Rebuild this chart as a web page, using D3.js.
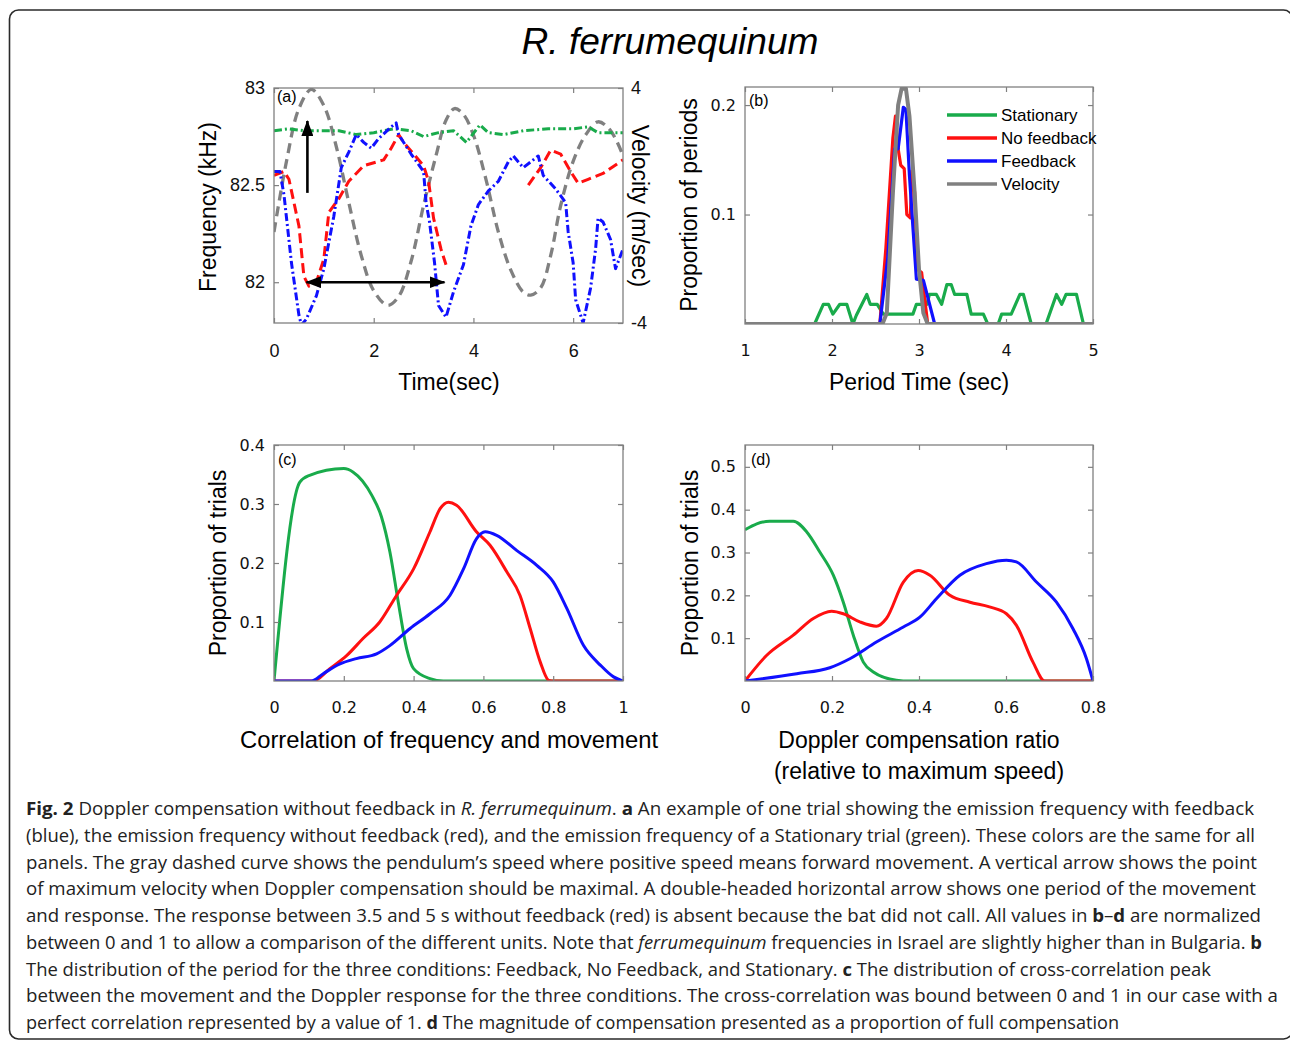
<!DOCTYPE html>
<html>
<head>
<meta charset="utf-8">
<script src="https://cdn.jsdelivr.net/npm/d3@7"></script>
<style>
  body { margin: 0; background: #fff; }
  svg { display: block; }
</style>
</head>
<body>
<div id="chart"></div>
<script>
// ---------- panel (a): one trial ----------
const aTimeTicks = [0, 2, 4, 6];
const aFreqTicks = [82, 82.5, 83];
const aVelTicks = [-4, 4];

// [time (s), velocity (m/s)]
const aVelocity = [[0,-0.9],[0.25,1.5],[0.5,3.3],[0.75,3.95],[1.0,3.4],[1.25,2.0],[1.5,0.1],[1.75,-1.7],[2.0,-2.9],[2.28,-3.4],[2.5,-3.1],[2.75,-1.9],[3.0,0.0],[3.25,1.7],[3.45,2.9],[3.62,3.3],[3.8,3.1],[4.0,2.4],[4.25,0.9],[4.5,-0.9],[4.75,-2.2],[5.0,-2.95],[5.15,-3.05],[5.35,-2.8],[5.55,-1.7],[5.75,0.0],[6.0,1.5],[6.25,2.4],[6.5,2.85],[6.75,2.55],[7.0,1.7]];

// [time (s), frequency (kHz)]
const aStationary = [[0,82.78],[0.3,82.79],[0.6,82.78],[1.0,82.78],[1.3,82.78],[1.65,82.76],[2.0,82.77],[2.4,82.79],[2.75,82.78],[3.0,82.75],[3.3,82.77],[3.6,82.78],[3.86,82.72],[4.13,82.81],[4.3,82.77],[4.6,82.76],[5.0,82.78],[5.5,82.79],[6.0,82.79],[6.3,82.8],[6.5,82.77],[7.0,82.77]];

const aNoFeedback = [[0,82.55],[0.2,82.57],[0.3,82.53],[0.5,82.29],[0.6,82.03],[0.7,81.98],[0.85,82.0],[1.0,82.12],[1.1,82.36],[1.3,82.43],[1.5,82.52],[1.8,82.6],[2.2,82.63],[2.35,82.69],[2.5,82.76],[2.6,82.72],[3.0,82.6],[3.1,82.52],[3.2,82.33],[3.35,82.17],[3.45,82.09],[3.5,null],[5.1,82.5],[5.35,82.59],[5.55,82.68],[5.75,82.66],[5.95,82.57],[6.1,82.51],[6.3,82.53],[6.6,82.56],[7.0,82.63]];

const aFeedback = [[0,82.57],[0.12,82.57],[0.2,82.45],[0.35,82.1],[0.5,81.83],[0.55,81.78],[0.65,81.81],[0.85,81.93],[1.0,82.07],[1.2,82.34],[1.35,82.59],[1.5,82.67],[1.65,82.76],[1.8,82.72],[1.95,82.69],[2.1,82.74],[2.35,82.8],[2.45,82.82],[2.5,82.76],[2.75,82.66],[3.0,82.57],[3.05,82.41],[3.12,82.31],[3.22,82.1],[3.3,81.88],[3.45,81.82],[3.6,81.95],[3.8,82.09],[3.95,82.29],[4.1,82.4],[4.3,82.47],[4.5,82.52],[4.7,82.62],[4.8,82.65],[5.0,82.59],[5.15,82.62],[5.3,82.65],[5.4,82.55],[5.65,82.48],[5.85,82.41],[5.9,82.26],[6.0,82.1],[6.05,81.91],[6.2,81.79],[6.35,81.97],[6.45,82.17],[6.5,82.33],[6.6,82.31],[6.75,82.22],[6.85,82.07],[7.0,82.17]];

// arrows: [time, freq from, freq to] and [freq, time from, time to]
const aArrowUp = [0.67, 82.46, 82.83];
const aArrowPeriod = [82.0, 0.65, 3.42];

// ---------- panel (b): period distribution ----------
const bPeriodTicks = [1, 2, 3, 4, 5];
const bPropTicks = [0.1, 0.2];
const bNames = ["Stationary", "No feedback", "Feedback", "Velocity"];

const bStationary = [[1,0],[1.8,0],[1.9,0.018],[1.96,0.018],[2.01,0.009],[2.09,0.018],[2.17,0.018],[2.24,0],[2.28,0.008],[2.4,0.027],[2.44,0.018],[2.52,0.018],[2.59,0.009],[2.93,0.009],[2.97,0.018],[3.09,0.018],[3.12,0.027],[3.2,0.027],[3.26,0.018],[3.32,0.036],[3.37,0.036],[3.41,0.027],[3.55,0.027],[3.6,0.009],[3.74,0.009],[3.79,0],[3.91,0],[3.95,0.009],[4.06,0.009],[4.16,0.027],[4.2,0.027],[4.29,0],[4.46,0],[4.58,0.027],[4.64,0.018],[4.69,0.027],[4.81,0.027],[4.89,0],[5,0]];
const bNoFeedback = [[2.55,0],[2.62,0.07],[2.7,0.17],[2.73,0.19],[2.76,0.16],[2.79,0.145],[2.83,0.142],[2.86,0.1],[2.9,0.097],[2.92,0.14],[2.95,0.12],[2.98,0.05],[3.03,0.047],[3.07,0.02],[3.1,0]];
const bFeedback = [[2.55,0],[2.64,0.06],[2.72,0.16],[2.76,0.16],[2.82,0.198],[2.85,0.196],[2.89,0.136],[2.97,0.041],[3.05,0.04],[3.18,0]];
const bVelocity = [[1,0],[2.58,0],[2.63,0.01],[2.7,0.12],[2.76,0.2],[2.8,0.215],[2.85,0.215],[2.89,0.19],[2.95,0.12],[3.0,0.05],[3.05,0.01],[3.1,0],[5,0]];

// ---------- panel (c): correlation distribution ----------
const cCorrTicks = [0, 0.2, 0.4, 0.6, 0.8, 1];
const cPropTicks = [0.1, 0.2, 0.3, 0.4];

const cStationary = [[0,0],[0.074,0.337],[0.1,0.348],[0.2,0.36],[0.227,0.354],[0.28,0.315],[0.308,0.278],[0.332,0.219],[0.356,0.134],[0.38,0.055],[0.4,0.021],[0.447,0.004],[0.485,0],[1,0]];
const cNoFeedback = [[0,0],[0.112,0],[0.16,0.021],[0.208,0.043],[0.255,0.072],[0.303,0.1],[0.351,0.145],[0.4,0.19],[0.447,0.253],[0.476,0.292],[0.5,0.303],[0.523,0.298],[0.58,0.253],[0.619,0.23],[0.667,0.185],[0.705,0.145],[0.734,0.089],[0.763,0.032],[0.787,0.001],[0.796,0],[1,0]];
const cFeedback = [[0,0],[0.107,0],[0.14,0.012],[0.189,0.029],[0.236,0.038],[0.294,0.046],[0.332,0.06],[0.39,0.089],[0.447,0.114],[0.504,0.145],[0.543,0.19],[0.58,0.241],[0.605,0.253],[0.638,0.247],[0.696,0.221],[0.753,0.196],[0.8,0.168],[0.839,0.123],[0.887,0.06],[0.935,0.027],[0.973,0.007],[1,0]];

// ---------- panel (d): compensation ratio distribution ----------
const dRatioTicks = [0, 0.2, 0.4, 0.6, 0.8];
const dPropTicks = [0.1, 0.2, 0.3, 0.4, 0.5];

const dStationary = [[0,0.353],[0.027,0.367],[0.057,0.373],[0.111,0.373],[0.142,0.348],[0.172,0.301],[0.203,0.247],[0.226,0.184],[0.249,0.107],[0.272,0.044],[0.295,0.021],[0.348,0.002],[0.379,0],[0.8,0]];
const dNoFeedback = [[0,0],[0.05,0.06],[0.111,0.107],[0.157,0.146],[0.199,0.163],[0.226,0.157],[0.264,0.138],[0.302,0.128],[0.325,0.146],[0.364,0.231],[0.398,0.258],[0.425,0.247],[0.471,0.2],[0.517,0.184],[0.562,0.173],[0.601,0.157],[0.624,0.13],[0.662,0.044],[0.689,0],[0.8,0]];
const dFeedback = [[0,0],[0.119,0.017],[0.195,0.031],[0.241,0.052],[0.302,0.091],[0.364,0.126],[0.402,0.149],[0.44,0.192],[0.494,0.247],[0.555,0.274],[0.601,0.282],[0.624,0.278],[0.67,0.231],[0.716,0.184],[0.754,0.122],[0.785,0.052],[0.8,0]];

// ---------- caption ----------
const captionLines = [
  [["Fig. 2", "b"], [" Doppler compensation without feedback in ", ""], ["R. ferrumequinum", "i"], [". ", ""], ["a", "b"], [" An example of one trial showing the emission frequency with feedback", ""]],
  [["(blue), the emission frequency without feedback (red), and the emission frequency of a Stationary trial (green). These colors are the same for all", ""]],
  [["panels. The gray dashed curve shows the pendulum\u2019s speed where positive speed means forward movement. A vertical arrow shows the point", ""]],
  [["of maximum velocity when Doppler compensation should be maximal. A double-headed horizontal arrow shows one period of the movement", ""]],
  [["and response. The response between 3.5 and 5\u00a0s without feedback (red) is absent because the bat did not call. All values in ", ""], ["b", "b"], ["\u2013", ""], ["d", "b"], [" are normalized", ""]],
  [["between 0 and 1 to allow a comparison of the different units. Note that ", ""], ["ferrumequinum", "i"], [" frequencies in Israel are slightly higher than in Bulgaria. ", ""], ["b", "b"]],
  [["The distribution of the period for the three conditions: Feedback, No Feedback, and Stationary. ", ""], ["c", "b"], [" The distribution of cross-correlation peak", ""]],
  [["between the movement and the Doppler response for the three conditions. The cross-correlation was bound between 0 and 1 in our case with a", ""]],
  [["perfect correlation represented by a value of 1. ", ""], ["d", "b"], [" The magnitude of compensation presented as a proportion of full compensation", ""]]
];
const captionEnds = [1254, 1255, 1257, 1256, 1261, 1262, 1211, 1278, 1119];

// ---------- drawing ----------
const green = "#19ab4b", red = "#ff1010", blue = "#1010ff", gray = "#808080";
const frameColor = "#808080";
const sansA = "'Liberation Sans', Arial, sans-serif";
const sansTick = "'DejaVu Sans', sans-serif";

const svg = d3.select("#chart").append("svg")
    .attr("width", 1290)
    .attr("height", 1040);

// outer rounded border
svg.append("rect")
    .attr("x", 9.5).attr("y", 10)
    .attr("width", 1283).attr("height", 1029)
    .attr("rx", 9)
    .attr("fill", "none")
    .attr("stroke", "#2a2a2a")
    .attr("stroke-width", 1.6);

svg.append("text")
    .attr("x", 670).attr("y", 54)
    .attr("text-anchor", "middle")
    .attr("textLength", 297)
    .attr("lengthAdjust", "spacingAndGlyphs")
    .style("font-family", sansA)
    .style("font-style", "italic")
    .style("font-size", "37px")
    .text("R. ferrumequinum");

const defs = svg.append("defs");
defs.append("marker")
    .attr("id", "head")
    .attr("viewBox", "0 0 16 12")
    .attr("refX", 15).attr("refY", 6)
    .attr("markerUnits", "userSpaceOnUse")
    .attr("markerWidth", 16).attr("markerHeight", 12)
    .attr("orient", "auto-start-reverse")
    .append("path")
    .attr("d", "M0,0 L16,6 L0,12 z")
    .attr("fill", "#000");

function makePanel(name, box, xDomain, yDomain) {
    const g = svg.append("g").attr("transform", `translate(${box.x},${box.y})`);
    const x = d3.scaleLinear().domain(xDomain).range([0, box.w]);
    const y = d3.scaleLinear().domain(yDomain).range([box.h, 0]);
    defs.append("clipPath").attr("id", "clip-" + name)
        .append("rect").attr("width", box.w).attr("height", box.h);
    const plot = g.append("g").attr("clip-path", `url(#clip-${name})`);
    return { g, x, y, plot, w: box.w, h: box.h };
}

function styleAxis(sel, font, size) {
    sel.select(".domain").remove();
    sel.selectAll(".tick line").attr("stroke", frameColor).attr("stroke-width", 1.2);
    sel.selectAll(".tick text").attr("fill", "#111")
        .style("font-family", font).style("font-size", size + "px");
}

function drawFrame(p, o) {
    const { g, x, y, w, h } = p;
    const fmt = o.fmt || (d => String(d));
    g.append("g").attr("transform", `translate(0,${h})`)
        .call(d3.axisBottom(x).tickValues(o.xTicks).tickSizeInner(-5).tickSizeOuter(0).tickPadding(21).tickFormat(fmt))
        .call(s => styleAxis(s, o.font, o.size));
    g.append("g")
        .call(d3.axisTop(x).tickValues(o.xTicks).tickSizeInner(-5).tickSizeOuter(0).tickFormat(""))
        .call(s => styleAxis(s, o.font, o.size));
    g.append("g")
        .call(d3.axisLeft(y).tickValues(o.yTicks).tickSizeInner(-5).tickSizeOuter(0).tickPadding(9).tickFormat(fmt))
        .call(s => styleAxis(s, o.font, o.size));
    if (!o.noRight) {
        g.append("g").attr("transform", `translate(${w},0)`)
            .call(d3.axisRight(y).tickValues(o.yTicks).tickSizeInner(-5).tickSizeOuter(0).tickFormat(""))
            .call(s => styleAxis(s, o.font, o.size));
    }
    g.append("rect")
        .attr("width", w).attr("height", h)
        .attr("fill", "none")
        .attr("stroke", frameColor)
        .attr("stroke-width", 1.3);
    g.append("text")
        .attr("x", o.tagX).attr("y", o.tagY)
        .style("font-family", sansA).style("font-size", "16px")
        .text(o.tag);
}

function drawLine(p, data, color, width, dash, curve, yScale) {
    const ys = yScale || p.y;
    p.plot.append("path")
        .datum(data)
        .attr("fill", "none")
        .attr("stroke", color)
        .attr("stroke-width", width)
        .attr("stroke-dasharray", dash)
        .attr("stroke-linejoin", "round")
        .attr("d", d3.line()
            .defined(d => d[1] !== null)
            .curve(curve || d3.curveLinear)
            .x(d => p.x(d[0]))
            .y(d => ys(d[1]))
        );
}

function axisLabel(x, y, text, rotate, size) {
    svg.append("text")
        .attr("transform", `translate(${x},${y}) rotate(${rotate || 0})`)
        .attr("text-anchor", "middle")
        .style("font-family", sansA)
        .style("font-size", (size || 23) + "px")
        .text(text);
}

// ----- panel (a)
const pa = makePanel("a", { x: 274, y: 88, w: 349, h: 235 }, [0, 7], [81.79, 83]);
const yVel = d3.scaleLinear().domain([-4, 4]).range([pa.h, 0]);

drawLine(pa, aVelocity, gray, 3.3, "10,6", d3.curveCatmullRom, yVel);
drawLine(pa, aStationary, green, 3, "8,3,2,3");
drawLine(pa, aNoFeedback, red, 3, "10,5");
drawLine(pa, aFeedback, blue, 3, "8,3,2,3");

pa.g.append("line")
    .attr("x1", pa.x(aArrowUp[0])).attr("x2", pa.x(aArrowUp[0]))
    .attr("y1", pa.y(aArrowUp[1])).attr("y2", pa.y(aArrowUp[2]))
    .attr("stroke", "#000").attr("stroke-width", 2.6)
    .attr("marker-end", "url(#head)");
pa.g.append("line")
    .attr("x1", pa.x(aArrowPeriod[1])).attr("x2", pa.x(aArrowPeriod[2]))
    .attr("y1", pa.y(aArrowPeriod[0])).attr("y2", pa.y(aArrowPeriod[0]))
    .attr("stroke", "#000").attr("stroke-width", 2.6)
    .attr("marker-start", "url(#head)")
    .attr("marker-end", "url(#head)");

drawFrame(pa, { xTicks: aTimeTicks, yTicks: aFreqTicks, font: sansA, size: 18, noRight: true, tag: "(a)", tagX: 3, tagY: 14 });
pa.g.append("g").attr("transform", `translate(${pa.w},0)`)
    .call(d3.axisRight(yVel).tickValues(aVelTicks).tickSizeInner(-5).tickSizeOuter(0).tickPadding(8).tickFormat(d => String(d)))
    .call(s => styleAxis(s, sansA, 18));

axisLabel(216, 207, "Frequency (kHz)", -90);
axisLabel(632, 206, "Velocity (m/sec)", 90);
axisLabel(449, 390, "Time(sec)");

// ----- panel (b)
const pb = makePanel("b", { x: 745, y: 87, w: 348, h: 237 }, [1, 5], [0, 0.2165]);
drawLine(pb, bStationary, green, 3.2);
drawLine(pb, bNoFeedback, red, 3.2);
drawLine(pb, bFeedback, blue, 3.2);
drawLine(pb, bVelocity, gray, 4);
drawFrame(pb, { xTicks: bPeriodTicks, yTicks: bPropTicks, font: sansTick, size: 16, tag: "(b)", tagX: 4, tagY: 19 });

const bColors = [green, red, blue, gray];
const legend = svg.append("g").attr("transform", "translate(947,115)");
bNames.forEach((name, i) => {
    const row = legend.append("g").attr("transform", `translate(0,${i * 23})`);
    row.append("line").attr("x1", 0).attr("x2", 50)
        .attr("stroke", bColors[i]).attr("stroke-width", 3.5);
    row.append("text").attr("x", 54).attr("dy", "0.35em")
        .style("font-family", sansA).style("font-size", "17px")
        .text(name);
});

axisLabel(697, 205, "Proportion of periods", -90);
axisLabel(919, 390, "Period Time (sec)");

// ----- panel (c)
const pc = makePanel("c", { x: 274, y: 445, w: 349, h: 236 }, [0, 1], [0, 0.4]);
drawLine(pc, cStationary, green, 3, null, d3.curveMonotoneX);
drawLine(pc, cNoFeedback, red, 3, null, d3.curveMonotoneX);
drawLine(pc, cFeedback, blue, 3, null, d3.curveMonotoneX);
drawFrame(pc, { xTicks: cCorrTicks, yTicks: cPropTicks, font: sansTick, size: 16, tag: "(c)", tagX: 4, tagY: 20 });

axisLabel(226, 563, "Proportion of trials", -90);
axisLabel(449, 748, "Correlation of frequency and movement", 0, 23.8);

// ----- panel (d)
const pd = makePanel("d", { x: 745, y: 445, w: 348, h: 236 }, [0, 0.8], [0, 0.551]);
drawLine(pd, dStationary, green, 3, null, d3.curveMonotoneX);
drawLine(pd, dNoFeedback, red, 3, null, d3.curveMonotoneX);
drawLine(pd, dFeedback, blue, 3, null, d3.curveMonotoneX);
drawFrame(pd, { xTicks: dRatioTicks, yTicks: dPropTicks, font: sansTick, size: 16, tag: "(d)", tagX: 6, tagY: 20 });

axisLabel(698, 563, "Proportion of trials", -90);
axisLabel(919, 748, "Doppler compensation ratio");
axisLabel(919, 779, "(relative to maximum speed)");

// ----- caption
captionLines.forEach((parts, i) => {
    const t = svg.append("text")
        .attr("x", 26)
        .attr("y", 815 + i * 26.75)
        .attr("textLength", captionEnds[i] - 26)
        .attr("lengthAdjust", "spacingAndGlyphs")
        .style("font-family", "'Open Sans', sans-serif")
        .style("font-size", "17.5px")
        .attr("fill", "#222");
    parts.forEach(([txt, st]) => {
        t.append("tspan")
            .style("font-weight", st === "b" ? "bold" : null)
            .style("font-style", st === "i" ? "italic" : null)
            .text(txt);
    });
});
</script>
</body>
</html>
